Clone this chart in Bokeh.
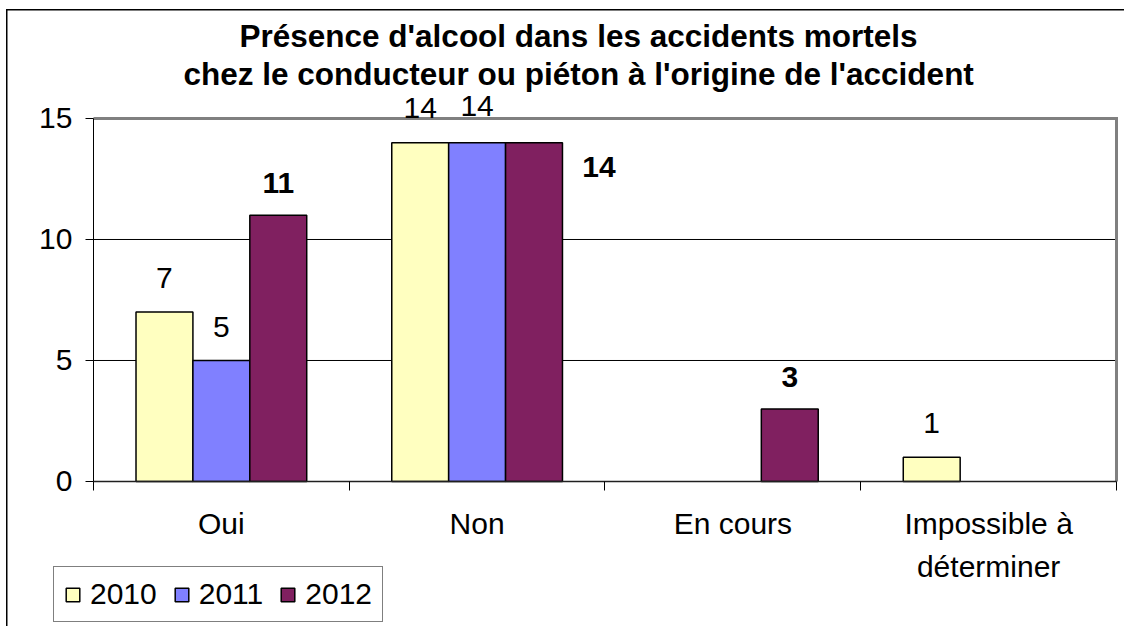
from bokeh.plotting import figure
from bokeh.models import (Range1d, FixedTicker, ColumnDataSource, Legend, LegendItem, Title)
from bokeh.core.properties import value
from bokeh.embed import file_html
from bokeh.resources import INLINE

# ---- data ----
categories = ["Oui", "Non", "En cours", "Impossible à\ndéterminer"]
years = ["2010", "2011", "2012"]
v2010 = [7, 14, 0, 1]
v2011 = [5, 14, 0, 0]
v2012 = [11, 14, 3, 0]
y_ticks = [0, 5, 10, 15]
y_max = 15
title_line1 = "Présence d'alcool dans les accidents mortels"
title_line2 = "chez le conducteur ou piéton à l'origine de l'accident"

# ---- styles ----
series = [v2010, v2011, v2012]
colors = ["#FFFFC0", "#8080FF", "#802060"]
label_styles = ["normal", "normal", "bold"]
label_dx = [[0, 0, 0, 0], [0, 0, 0, 0], [0, 65, 0, 0]]
label_dy = [[-34, -35, -33, -34], [-33, -37, -33, -33], [-32, 24, -32, -32]]
FONT = "Liberation Sans"
FS = "30px"
TFS = "31.5px"
BAR_W = 0.2225
# visible window around the plot area (axes are pinned at 0 inside it)
X_START, X_END = -0.3636, 4.0313
Y_START, Y_END = -5.992, 16.074

n = len(categories)
W, H = 1124, 626
p = figure(width=W, height=H, output_backend="svg", toolbar_location=None,
           x_range=Range1d(X_START, X_END), y_range=Range1d(Y_START, Y_END),
           min_border_left=0, min_border_right=0, min_border_top=92,
           min_border_bottom=0, title=title_line1)
p.background_fill_alpha = 0
p.border_fill_alpha = 0
p.outline_line_color = None
p.styles = {
    "background-color": "white",
    "background-image": "linear-gradient(#000,#000), linear-gradient(#000,#000)",
    "background-position": "6px 9px, 6px 9px",
    "background-size": "1.5px 100%, 100% 1.5px",
    "background-repeat": "no-repeat",
}

p.title.align = "left"
p.title.offset = 239
p.title.text_font = FONT
p.title.text_font_size = TFS
p.title.text_font_style = "bold"
p.title.text_color = "black"
p.title.standoff = -3
t2 = Title(text=title_line2, align="left", offset=183, text_font=FONT,
           text_font_size=TFS, text_font_style="bold", text_color="black", standoff=2)
p.add_layout(t2, "above")

# y axis (pinned at x = 0)
p.yaxis.fixed_location = 0
p.yaxis.ticker = FixedTicker(ticks=y_ticks)
p.yaxis.bounds = (0, y_max)
p.yaxis.major_tick_out = 8
p.yaxis.major_tick_in = 0
p.yaxis.minor_tick_line_color = None
p.yaxis.axis_line_color = "black"
p.yaxis.major_tick_line_color = "black"
p.yaxis.major_label_text_font = FONT
p.yaxis.major_label_text_font_size = FS
p.yaxis.major_label_text_color = "black"
p.yaxis.major_label_standoff = 13

# x axis (pinned at y = 0)
centers = [i + 0.5 for i in range(n)]
p.xaxis.fixed_location = 0
p.xaxis.ticker = FixedTicker(ticks=centers, minor_ticks=list(range(n + 1)))
p.xaxis.major_label_overrides = {c: lab for c, lab in zip(centers, categories)}
p.xaxis.bounds = (0, n)
p.xaxis.major_tick_out = 0
p.xaxis.major_tick_in = 0
p.xaxis.minor_tick_out = 9
p.xaxis.minor_tick_in = 0
p.xaxis.minor_tick_line_color = "black"
p.xaxis.axis_line_color = "#202020"
p.xaxis.axis_line_width = 1.5
p.xaxis.major_label_text_font = FONT
p.xaxis.major_label_text_font_size = FS
p.xaxis.major_label_text_color = "black"
p.xaxis.major_label_text_line_height = 1.3
p.xaxis.major_label_standoff = 17

p.xgrid.visible = False
p.ygrid.visible = False
grid_y = [t for t in y_ticks if 0 < t < y_max]
p.segment(x0=[0] * len(grid_y), x1=[n] * len(grid_y), y0=grid_y, y1=grid_y,
          line_color="black", line_width=1)

# plot-area border (top and right), gray
p.line(x=[0, n, n], y=[y_max, y_max, 0], line_color="#808080", line_width=3,
       line_join="miter")

items = []
for j, (vals, col, yr) in enumerate(zip(series, colors, years)):
    xs = [c + (j - 1) * BAR_W for c in centers]
    keep = [i for i, v in enumerate(vals) if v]
    src = ColumnDataSource(dict(x=[xs[i] for i in keep], top=[vals[i] for i in keep],
                                t=[str(vals[i]) for i in keep],
                                dx=[label_dx[j][i] for i in keep],
                                dy=[label_dy[j][i] for i in keep]))
    r = p.vbar(x="x", top="top", width=BAR_W, bottom=0, source=src,
               fill_color=col, line_color="black", line_width=1.5)
    items.append(LegendItem(label=yr, renderers=[r]))
    p.text(x="x", y="top", text="t", x_offset="dx", y_offset="dy", source=src,
           text_align="center", text_baseline="middle",
           text_font=value(FONT), text_font_size=FS,
           text_font_style=label_styles[j], text_color="black")

legend = Legend(items=items, orientation="horizontal", location=(53, 4),
                label_text_font=FONT, label_text_font_size=FS,
                label_text_color="black",
                glyph_width=17, glyph_height=17, label_standoff=9, spacing=16,
                padding=10, margin=0, border_line_color="black",
                border_line_width=1, background_fill_color="white",
                background_fill_alpha=1)
p.add_layout(legend)

open("out.html", "w").write(file_html(p, INLINE))
